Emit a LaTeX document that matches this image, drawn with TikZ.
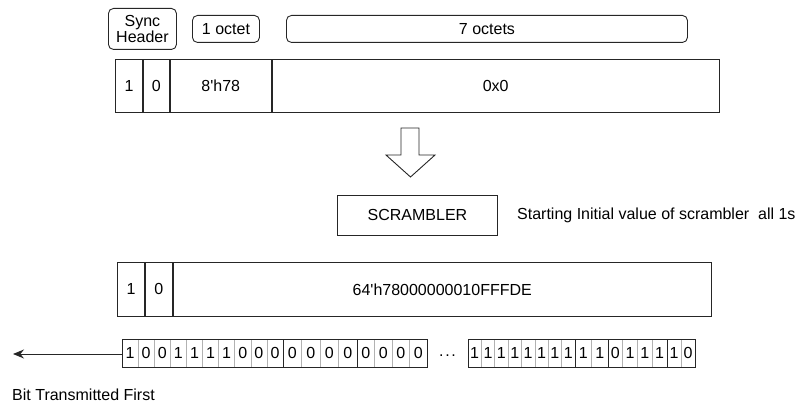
\documentclass[tikz,border=0pt]{standalone}
\usepackage{fontspec}
\setmainfont{Liberation Sans}
\usetikzlibrary{arrows.meta}

\tikzset{
  field/.style={draw=black!85, line width=0.9pt, inner sep=0pt, anchor=north west},
  tag/.style={draw=black!85, line width=0.9pt, rounded corners=5pt, inner sep=0pt, anchor=north west},
  grp/.style={draw=black!85, line width=0.9pt, inner sep=0pt, minimum height=28pt, anchor=west},
  cellline/.style={draw=black!30, line width=0.6pt},
}

\begin{document}
\begin{tikzpicture}[x=1pt, y=-1pt, font=\fontsize{16}{17}\selectfont]
  \useasboundingbox (0,0) rectangle (796,404);

  % Field size tags
  \node[tag, minimum width=68pt, minimum height=41pt, align=center] (sync) at (108,8) {Sync\\[-1pt]Header};
  \node[tag, minimum width=67pt, minimum height=27pt] (one) at (192,15) {1 octet};
  \node[tag, minimum width=401pt, minimum height=27pt] (seven) at (286,15) {7 octets};

  % Block before scrambling
  \node[field, minimum width=27pt, minimum height=53pt] (s1) at (115,59) {1};
  \node[field, minimum width=26pt, minimum height=53pt] (s0) at (s1.north east) {0};
  \node[field, minimum width=101pt, minimum height=53pt] (oct) at (s0.north east) {8\textquotesingle h78};
  \node[field, minimum width=447pt, minimum height=53pt] (rest) at (oct.north east) {0x0};

  % Hollow down arrow
  \draw[line width=0.9pt, draw=black!85] (401,128) -- (419,128) -- (419,155) -- (435,155)
    -- (410.5,177) -- (386,155) -- (401,155) -- cycle;

  % Scrambler
  \node[field, minimum width=160pt, minimum height=40pt] (scr) at (337,195) {SCRAMBLER};
  \node[anchor=west, inner sep=0pt] (init) at (517,215) {Starting Initial value of scrambler\ \ all 1s};

  % Block after scrambling
  \node[field, minimum width=27pt, minimum height=54pt] (t1) at (117,262) {1};
  \node[field, minimum width=27pt, minimum height=54pt] (t0) at (t1.north east) {0};
  \node[field, minimum width=538pt, minimum height=54pt] (data) at (t0.north east) {64\textquotesingle h78000000010FFFDE};

  % Transmitted bits
  \foreach \g/\xa/\xb/\n/\bits in {g1/122/283/10/{1,0,0,1,1,1,1,0,0,0}, g2/283/357/4/{0,0,0,0},
      g3/357/427/4/{0,0,0,0}, g4/468/575/8/{1,1,1,1,1,1,1,1}, g5/575/608/2/{1,1},
      g6/608/667/4/{0,1,1,1}, g7/667/695/2/{1,0}} {
    \pgfmathsetmacro\cw{(\xb-\xa)/\n}
    \foreach \b [count=\i] in \bits {
      \node (\g-\i) at ({\xa+(\i-0.5)*\cw},353) {\b};
      \ifnum\i<\n
        \draw[cellline] ({\xa+\i*\cw},339.5) -- ({\xa+\i*\cw},366.5);
      \fi
    }
    \node[grp, minimum width={(\xb-\xa)*1pt}] (\g) at (\xa,353) {};
  }
  \node (dots) at (447.5,356) {.\kern1.6pt.\kern1.6pt.};

  \coordinate (tx) at (13,354);
  \draw[line width=1pt, draw=black!85, -{Stealth[length=11pt, width=9pt]}] (g1.west |- tx) -- (tx);
  \node[anchor=west, inner sep=0pt] (first) at (12,395) {Bit Transmitted First};
\end{tikzpicture}
\end{document}
